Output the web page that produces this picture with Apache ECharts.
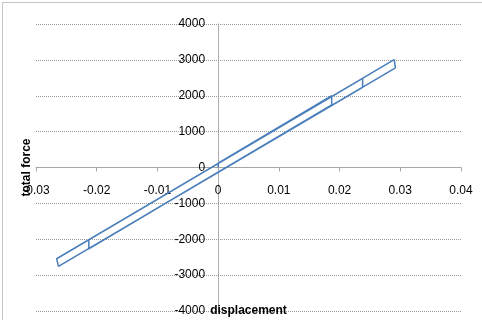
<!DOCTYPE html>
<html>
<head>
<meta charset="utf-8">
<script src="https://cdn.jsdelivr.net/npm/echarts@6/dist/echarts.min.js"></script>
<style>
html,body{margin:0;padding:0;background:#fff;}
#c{width:482px;height:320px;}
</style>
</head>
<body>
<div id="c"></div>
<script>
// Data (hysteresis path)
var displacement = [0, 0, 0.0187, 0.0187, -0.0213, -0.0213, 0.0238, 0.0238, -0.0263, -0.0266, 0.0290, 0.0292, 0];
var force        = [0, 120, 2006, 1747, -2265, -2014, 2487, 2237, -2758, -2543, 3008, 2777, -135];
var xTicks = [-0.03, -0.02, -0.01, 0, 0.01, 0.02, 0.03, 0.04];
var yTicks = [-4000, -3000, -2000, -1000, 0, 1000, 2000, 3000, 4000];
var xName = 'displacement';
var yName = 'total force';

var pts = displacement.map(function (d, i) { return [d, force[i]]; });
var font = 'Liberation Sans';
var gridL = 36, gridR = 21, gridT = 24, gridB = 9;
var W = 482, H = 320;
var xMin = xTicks[0], xMax = xTicks[xTicks.length - 1];
var yMin = yTicks[0], yMax = yTicks[yTicks.length - 1];
// place the axes where the other axis is zero (as in the reference)
var plotW = W - gridL - gridR, plotH = H - gridT - gridB;
var yAxisOffset = -plotW * (0 - xMin) / (xMax - xMin);
var xAxisOffset = -plotH * (0 - yMin) / (yMax - yMin);

var chart = echarts.init(document.getElementById('c'));
chart.setOption({
  animation: false,
  backgroundColor: '#fff',
  grid: { left: gridL, right: gridR, top: gridT, bottom: gridB, containLabel: false, outerBoundsMode: 'none' },
  graphic: [{
    type: 'rect', left: 0, top: 0,
    shape: { x: 0.5, y: 0.5, width: 481, height: 319 },
    style: { fill: 'none', stroke: '#8c8c8c', lineWidth: 1, lineDash: [1, 1] },
    silent: true
  }],
  xAxis: {
    type: 'value', position: 'bottom', offset: xAxisOffset,
    min: xMin, max: xMax, interval: 0.01,
    name: xName, nameLocation: 'middle', nameGap: 137,
    nameTextStyle: { fontFamily: font, fontSize: 12, fontWeight: 'bold', color: '#000' },
    axisLine: { onZero: false, lineStyle: { color: '#a6a6a6', width: 1 } },
    axisTick: { show: true, length: 4, lineStyle: { color: '#a6a6a6' } },
    axisLabel: { margin: 17, fontFamily: font, fontSize: 12, color: '#000',
      formatter: function (v) { return String(Math.round(v * 100) / 100); } },
    splitLine: { show: false }
  },
  yAxis: {
    type: 'value', position: 'left', offset: yAxisOffset,
    min: yMin, max: yMax, interval: 1000,
    name: yName, nameLocation: 'middle', nameGap: 185, nameRotate: 90,
    nameTextStyle: { fontFamily: font, fontSize: 12, fontWeight: 'bold', color: '#000' },
    axisLine: { onZero: false, lineStyle: { color: '#9a9a9a', width: 1, type: [1, 1] } },
    axisTick: { show: false },
    axisLabel: { margin: 13, fontFamily: font, fontSize: 12, color: '#000',
      formatter: function (v) { return String(v); } },
    splitLine: { show: true, lineStyle: { color: '#9a9a9a', width: 1, type: [1, 1] } }
  },
  series: [{
    type: 'line',
    data: pts,
    showSymbol: false,
    symbol: 'none',
    lineStyle: { color: '#4A7EBB', width: 1.5 },
    z: 5
  }]
});
</script>
</body>
</html>
